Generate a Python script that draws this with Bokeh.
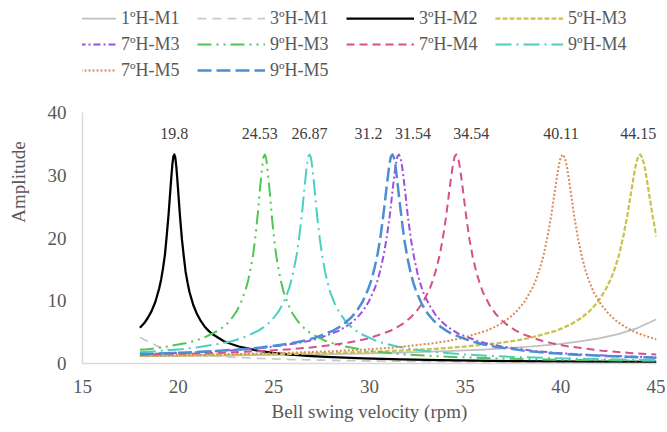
from bokeh.plotting import figure
from bokeh.models import Range1d, Legend, LegendItem, ColumnDataSource, FixedTicker
from bokeh.core.properties import value
from bokeh.embed import file_html
from bokeh.resources import INLINE

# ---------------- data: (rpm, amplitude) ----------------
names = ["1ºH-M1", "3ºH-M1", "3ºH-M2", "5ºH-M3", "7ºH-M3",
         "9ºH-M3", "7ºH-M4", "9ºH-M4", "7ºH-M5", "9ºH-M5"]

h1m1 = [(18, 1.16), (20, 1.21), (22.5, 1.27), (25, 1.36), (27.5, 1.47), (30, 1.62),
        (32, 1.77), (34, 1.97), (36, 2.23), (38, 2.59), (40, 3.13), (41, 3.51),
        (42, 4.0), (43, 4.67), (44, 5.65), (45, 7.04)]

h3m1 = [(18, 4.17), (19, 2.62), (20, 1.89), (21, 1.46), (22, 1.17), (23, 0.98),
        (24, 0.83), (26, 0.63), (28, 0.50), (30, 0.41), (33, 0.32), (36, 0.25),
        (39, 0.21), (42, 0.17), (45, 0.15)]

h3m2 = [(18, 5.69), (18.22, 6.41), (18.41, 7.25), (18.61, 8.35), (18.81, 9.84),
        (19.01, 12.0), (19.11, 13.4), (19.21, 15.2), (19.31, 17.4), (19.40, 20.3),
        (19.50, 23.8), (19.60, 28.0), (19.65, 30.0), (19.70, 31.8), (19.75, 33.0),
        (19.80, 33.3), (19.85, 32.8), (19.90, 31.5), (19.95, 29.6), (20.00, 27.5),
        (20.10, 23.3), (20.20, 19.7), (20.30, 16.9), (20.39, 14.6), (20.49, 12.9),
        (20.59, 11.4), (20.79, 9.33), (20.99, 7.84), (21.19, 6.74), (21.38, 5.90),
        (21.58, 5.24), (21.78, 4.70), (22.37, 3.58), (22.77, 3.10), (23.17, 2.71),
        (24.16, 2.05), (24.95, 1.70), (25.74, 1.45), (26.73, 1.22), (27.72, 1.04),
        (29.70, 0.80), (31.68, 0.64), (33.66, 0.53), (37.62, 0.38), (41.58, 0.29),
        (45, 0.24)]

h5m3 = [(18, 1.20), (19.87, 1.25), (22.08, 1.33), (26.49, 1.56), (28.70, 1.73),
        (30.91, 1.96), (33.11, 2.28), (34.44, 2.55), (36.64, 3.21), (37.53, 3.59),
        (38.41, 4.09), (39.74, 5.21), (40.18, 5.75), (40.62, 6.41), (41.06, 7.25),
        (41.50, 8.35), (41.94, 9.84), (42.38, 12.0), (42.60, 13.4), (42.83, 15.2),
        (43.05, 17.4), (43.27, 20.3), (43.49, 23.8), (43.71, 28.0), (43.82, 30.0),
        (43.93, 31.8), (44.04, 33.0), (44.15, 33.3), (44.26, 32.8), (44.37, 31.5),
        (44.48, 29.6), (44.59, 27.5), (44.81, 23.3), (45, 20.2)]

h7m3 = [(18, 1.48), (18.92, 1.56), (20.50, 1.73), (22.08, 1.96), (23.66, 2.28),
        (24.60, 2.55), (26.18, 3.21), (26.81, 3.59), (27.44, 4.09), (28.39, 5.21),
        (28.70, 5.75), (29.02, 6.41), (29.33, 7.25), (29.65, 8.35), (29.96, 9.84),
        (30.28, 12.0), (30.44, 13.4), (30.59, 15.2), (30.75, 17.4), (30.91, 20.3),
        (31.07, 23.8), (31.22, 28.0), (31.30, 30.0), (31.38, 31.8), (31.46, 33.0),
        (31.54, 33.3), (31.62, 32.8), (31.70, 31.5), (31.78, 29.6), (31.86, 27.5),
        (32.01, 23.3), (32.17, 19.7), (32.33, 16.9), (32.49, 14.6), (32.64, 12.9),
        (32.80, 11.4), (33.12, 9.33), (33.43, 7.84), (33.75, 6.74), (34.06, 5.90),
        (34.38, 5.24), (34.69, 4.70), (35.64, 3.58), (36.27, 3.10), (36.90, 2.71),
        (38.48, 2.05), (39.74, 1.70), (41.00, 1.45), (42.58, 1.22), (44.16, 1.04),
        (45, 0.97)]

h9m3 = [(18, 2.2), (18.40, 2.28), (19.13, 2.55), (20.36, 3.21), (20.85, 3.59),
        (21.34, 4.09), (22.08, 5.21), (22.32, 5.75), (22.57, 6.41), (22.81, 7.25),
        (23.06, 8.35), (23.30, 9.84), (23.55, 12.0), (23.67, 13.4), (23.79, 15.2),
        (23.92, 17.4), (24.04, 20.3), (24.16, 23.8), (24.28, 28.0), (24.35, 30.0),
        (24.41, 31.8), (24.47, 33.0), (24.53, 33.3), (24.59, 32.8), (24.65, 31.5),
        (24.71, 29.6), (24.78, 27.5), (24.90, 23.3), (25.02, 19.7), (25.14, 16.9),
        (25.27, 14.6), (25.39, 12.9), (25.51, 11.4), (25.76, 9.33), (26.00, 7.84),
        (26.25, 6.74), (26.49, 5.90), (26.74, 5.24), (26.98, 4.70), (27.72, 3.58),
        (28.21, 3.10), (28.70, 2.71), (29.93, 2.05), (30.91, 1.70), (31.89, 1.45),
        (33.12, 1.22), (34.34, 1.04), (36.80, 0.80), (39.25, 0.64), (41.70, 0.53),
        (45, 0.42)]

h7m4 = [(18, 1.37), (20.72, 1.56), (22.45, 1.73), (24.18, 1.96), (25.91, 2.28),
        (26.94, 2.55), (28.67, 3.21), (29.36, 3.59), (30.05, 4.09), (31.09, 5.21),
        (31.43, 5.75), (31.78, 6.41), (32.12, 7.25), (32.47, 8.35), (32.81, 9.84),
        (33.16, 12.0), (33.33, 13.4), (33.50, 15.2), (33.68, 17.4), (33.85, 20.3),
        (34.02, 23.8), (34.19, 28.0), (34.28, 30.0), (34.37, 31.8), (34.45, 33.0),
        (34.54, 33.3), (34.63, 32.8), (34.71, 31.5), (34.80, 29.6), (34.89, 27.5),
        (35.06, 23.3), (35.23, 19.7), (35.40, 16.9), (35.58, 14.6), (35.75, 12.9),
        (35.92, 11.4), (36.27, 9.33), (36.61, 7.84), (36.96, 6.74), (37.30, 5.90),
        (37.65, 5.24), (37.99, 4.70), (39.03, 3.58), (39.72, 3.10), (40.41, 2.71),
        (42.14, 2.05), (43.52, 1.70), (45, 1.43)]

h9m4 = [(18, 1.81), (18.81, 1.96), (20.15, 2.28), (20.96, 2.55), (22.30, 3.21),
        (22.84, 3.59), (23.38, 4.09), (24.18, 5.21), (24.45, 5.75), (24.72, 6.41),
        (24.99, 7.25), (25.26, 8.35), (25.53, 9.84), (25.80, 12.0), (25.93, 13.4),
        (26.06, 15.2), (26.20, 17.4), (26.33, 20.3), (26.47, 23.8), (26.60, 28.0),
        (26.67, 30.0), (26.74, 31.8), (26.80, 33.0), (26.87, 33.3), (26.94, 32.8),
        (27.00, 31.5), (27.07, 29.6), (27.14, 27.5), (27.27, 23.3), (27.41, 19.7),
        (27.54, 16.9), (27.68, 14.6), (27.81, 12.9), (27.94, 11.4), (28.21, 9.33),
        (28.48, 7.84), (28.75, 6.74), (29.02, 5.90), (29.29, 5.24), (29.56, 4.70),
        (30.36, 3.58), (30.90, 3.10), (31.44, 2.71), (32.78, 2.05), (33.86, 1.70),
        (34.93, 1.45), (36.27, 1.22), (37.62, 1.04), (40.31, 0.80), (42.99, 0.64),
        (45, 0.55)]

h7m5 = [(18, 1.25), (20.06, 1.33), (24.07, 1.56), (26.07, 1.73), (28.08, 1.96),
        (30.08, 2.28), (31.29, 2.55), (33.29, 3.21), (34.09, 3.59), (34.90, 4.09),
        (36.10, 5.21), (36.50, 5.75), (36.90, 6.41), (37.30, 7.25), (37.70, 8.35),
        (38.10, 9.84), (38.51, 12.0), (38.71, 13.4), (38.91, 15.2), (39.11, 17.4),
        (39.31, 20.3), (39.51, 23.8), (39.71, 28.0), (39.81, 30.0), (39.91, 31.8),
        (40.01, 33.0), (40.11, 33.3), (40.21, 32.8), (40.31, 31.5), (40.41, 29.6),
        (40.51, 27.5), (40.71, 23.3), (40.91, 19.7), (41.11, 16.9), (41.31, 14.6),
        (41.51, 12.9), (41.71, 11.4), (42.12, 9.33), (42.52, 7.84), (42.92, 6.74),
        (43.32, 5.90), (43.72, 5.24), (44.12, 4.70), (45, 3.83)]

h9m5 = [(18, 1.50), (18.72, 1.56), (20.28, 1.73), (21.84, 1.96), (23.40, 2.28),
        (24.34, 2.55), (25.90, 3.21), (26.52, 3.59), (27.14, 4.09), (28.08, 5.21),
        (28.39, 5.75), (28.70, 6.41), (29.02, 7.25), (29.33, 8.35), (29.64, 9.84),
        (29.95, 12.0), (30.11, 13.4), (30.26, 15.2), (30.42, 17.4), (30.58, 20.3),
        (30.73, 23.8), (30.89, 28.0), (30.97, 30.0), (31.04, 31.8), (31.12, 33.0),
        (31.20, 33.3), (31.28, 32.8), (31.36, 31.5), (31.43, 29.6), (31.51, 27.5),
        (31.67, 23.3), (31.82, 19.7), (31.98, 16.9), (32.14, 14.6), (32.29, 12.9),
        (32.45, 11.4), (32.76, 9.33), (33.07, 7.84), (33.38, 6.74), (33.70, 5.90),
        (34.01, 5.24), (34.32, 4.70), (35.26, 3.58), (35.88, 3.10), (36.50, 2.71),
        (38.06, 2.05), (39.31, 1.70), (40.56, 1.45), (42.12, 1.22), (43.68, 1.04),
        (45, 0.93)]

peak_x = [19.8, 24.53, 26.87, 31.2, 31.54, 34.54, 40.11, 44.15]
peak_text = ["19.8", "24.53", "26.87", "31.2", "31.54", "34.54", "40.11", "44.15"]
peak_label_y = 36.65

x_ticks = [15, 20, 25, 30, 35, 40, 45]
y_ticks = [0, 10, 20, 30, 40]

# ---------------- styles ----------------
series = [h1m1, h3m1, h3m2, h5m3, h7m3, h9m3, h7m4, h9m4, h7m5, h9m5]
colors = ["#BFBFBF", "#C9C9C9", "#000000", "#C8C24E", "#9B50DE",
          "#4FC653", "#D74F8C", "#4CCFC2", "#D98A55", "#4A8FD2"]
dashes = ["solid", "9 6", "solid", "5 2", "7 3 2 3",
          "14 5 2 5 2 5", "8 5", "16 5 2 5", "2 2", "14 5"]
widths = [1.75, 1.75, 2.25, 2.25, 2.0, 2.0, 2.0, 2.0, 2.0, 2.5]
label_offsets = [0, -5, 0, -24, 14, 15, -2, -2]

FONT = "'Liberation Serif', 'Times New Roman', serif"
TXT = "#595959"

p = figure(width=665, height=430,
           x_range=Range1d(15, 45), y_range=Range1d(0, 57.85),
           output_backend="svg", toolbar_location=None,
           min_border_left=82, min_border_right=9,
           min_border_top=0, min_border_bottom=67)
p.outline_line_color = None
p.xgrid.grid_line_color = None
p.ygrid.grid_line_color = None
p.background_fill_color = "white"

renderers = []
for pts, c, d, w in zip(series, colors, dashes, widths):
    xs = [pt[0] for pt in pts]
    ys = [pt[1] for pt in pts]
    r = p.line(xs, ys, line_color=c, line_dash=d, line_width=w, line_join="round")
    renderers.append(r)

src = ColumnDataSource(dict(x=peak_x, y=[peak_label_y] * len(peak_x),
                            t=peak_text, off=label_offsets))
p.text(x="x", y="y", text="t", x_offset="off", source=src,
       text_align="center", text_baseline="middle",
       text_font=value(FONT), text_font_size=value("16px"),
       text_color="#404040")

for ax in (p.xaxis[0], p.yaxis[0]):
    ax.axis_line_color = "#D9D9D9"
    ax.axis_line_width = 1.5
    ax.major_tick_line_color = None
    ax.minor_tick_line_color = None
    ax.major_tick_out = 0
    ax.major_tick_in = 0
    ax.major_label_text_font = FONT
    ax.major_label_text_font_size = "19px"
    ax.major_label_text_color = TXT
    ax.axis_label_text_font = FONT
    ax.axis_label_text_font_size = "19px"
    ax.axis_label_text_font_style = "normal"
    ax.axis_label_text_color = TXT

p.xaxis.ticker = FixedTicker(ticks=x_ticks)
p.yaxis.ticker = FixedTicker(ticks=y_ticks)
p.xaxis.axis_label = "Bell swing velocity (rpm)"
p.yaxis.axis_label = "Amplitude"
p.xaxis.major_label_standoff = 16
p.xaxis.axis_label_standoff = 5
p.yaxis.major_label_standoff = 16
p.yaxis.axis_label_standoff = 16
p.yaxis.bounds = (0, 40)

legend = Legend(items=[LegendItem(label=n, renderers=[r]) for n, r in zip(names, renderers)],
                location=(-34, 280), orientation="horizontal", ncols=4,
                glyph_width=68, glyph_height=26, label_height=26, label_width=76,
                label_standoff=5, spacing=0, padding=0, margin=0,
                border_line_color=None, background_fill_alpha=0,
                label_text_font=FONT, label_text_font_size="18px",
                label_text_color=TXT)
p.add_layout(legend, "center")

open("out.html", "w").write(file_html(p, INLINE))
